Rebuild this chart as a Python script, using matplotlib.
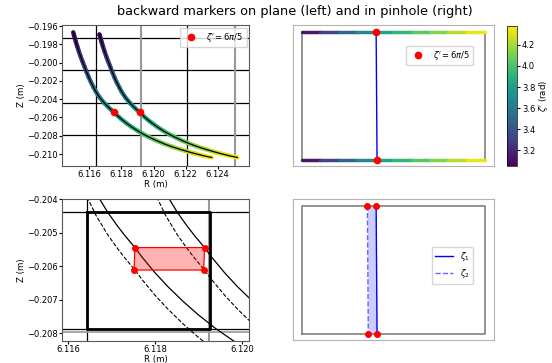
import numpy as np
import matplotlib
matplotlib.use('Agg')
import matplotlib.pyplot as plt
from matplotlib.collections import LineCollection
from matplotlib.colors import Normalize
from matplotlib.cm import ScalarMappable

## data
# marker traces on the plane (solid = zeta1)
rA = [6.11500, 6.11505, 6.11510, 6.11517, 6.11525, 6.11535, 6.11545, 6.11557, 6.11570,
      6.11583, 6.11596, 6.11611, 6.11627, 6.11640, 6.11664, 6.11691, 6.11714, 6.11732,
      6.11754, 6.11770, 6.11800, 6.11830, 6.11865, 6.11900, 6.11940, 6.11980, 6.12025,
      6.12070, 6.12120, 6.12170, 6.12220, 6.12265, 6.12315, 6.12363]
zA = [-0.19669, -0.19702, -0.19734, -0.19777, -0.19823, -0.19878, -0.19929, -0.19985, -0.20043,
      -0.20103, -0.20159, -0.20217, -0.20272, -0.20315, -0.20380, -0.20438, -0.20480, -0.20510,
      -0.20544, -0.20572, -0.20619, -0.20661, -0.20705, -0.20745, -0.20786, -0.20822, -0.20858,
      -0.20891, -0.20923, -0.20951, -0.20977, -0.20998, -0.21020, -0.21038]
rB = [6.11663, 6.11665, 6.11670, 6.11677, 6.11685, 6.11695, 6.11705, 6.11717, 6.11730,
      6.11743, 6.11756, 6.11771, 6.11787, 6.11800, 6.11824, 6.11851, 6.11874, 6.11892,
      6.11914, 6.11930, 6.11960, 6.11990, 6.12025, 6.12060, 6.12100, 6.12140, 6.12185,
      6.12230, 6.12280, 6.12330, 6.12380, 6.12425, 6.12475, 6.12523]
zB = [-0.19691, -0.19702, -0.19734, -0.19777, -0.19823, -0.19878, -0.19929, -0.19985, -0.20043,
      -0.20103, -0.20159, -0.20217, -0.20272, -0.20315, -0.20380, -0.20438, -0.20480, -0.20510,
      -0.20544, -0.20572, -0.20619, -0.20661, -0.20705, -0.20745, -0.20786, -0.20822, -0.20858,
      -0.20891, -0.20923, -0.20951, -0.20977, -0.20998, -0.21020, -0.21038]
zeta_tr = [3.050, 3.075, 3.098, 3.131, 3.166, 3.208, 3.246, 3.290, 3.335, 3.383, 3.428, 3.475,
           3.521, 3.558, 3.615, 3.667, 3.707, 3.735, 3.770, 3.790, 3.826, 3.860, 3.899, 3.937,
           3.978, 4.018, 4.063, 4.106, 4.154, 4.201, 4.248, 4.290, 4.336, 4.380]

# zeta2 traces (dashed), only the zoomed part
rA2 = [6.11570, 6.11583, 6.11596, 6.11611, 6.11627, 6.11640, 6.11664, 6.11691, 6.11714, 6.11732,
       6.11754, 6.11770, 6.11800, 6.11830, 6.11865, 6.11900, 6.11940, 6.11980, 6.12025, 6.12070]
zA2 = [-0.20110, -0.20170, -0.20226, -0.20284, -0.20339, -0.20382, -0.20447, -0.20505, -0.20547, -0.20577,
       -0.20611, -0.20639, -0.20686, -0.20728, -0.20772, -0.20812, -0.20853, -0.20889, -0.20925, -0.20958]
rB2 = [6.11730, 6.11743, 6.11756, 6.11771, 6.11787, 6.11800, 6.11824, 6.11851, 6.11874, 6.11892,
       6.11914, 6.11930, 6.11960, 6.11990, 6.12025, 6.12060, 6.12100, 6.12140, 6.12185, 6.12230]
zB2 = [-0.20110, -0.20170, -0.20226, -0.20284, -0.20339, -0.20382, -0.20447, -0.20505, -0.20547, -0.20577,
       -0.20611, -0.20639, -0.20686, -0.20728, -0.20772, -0.20812, -0.20853, -0.20889, -0.20925, -0.20958]

# markers at zeta' = 6pi/5
r_mark = [6.11754, 6.11914]
z_mark = [-0.20544, -0.20544]
# cell seen through pinhole (corners)
cell_r = [6.11754, 6.11914, 6.11912, 6.11752]
cell_z = [-0.20544, -0.20544, -0.20611, -0.20611]

# grid lines on plane
grid_z = [-0.19735, -0.20085, -0.20437, -0.20787]
grid_r_black = [6.11644, 6.12211]
grid_r_gray = [6.11925, 6.12506]
box_r = [6.11644, 6.11927]
box_z = [-0.20437, -0.20787]

# pinhole plane (normalised coords)
ph_x = [0.0, 0.1, 0.2, 0.3, 0.407, 0.5, 0.6, 0.7, 0.8, 0.9, 1.0]
ph_zeta = [3.05, 3.22, 3.40, 3.58, 3.77, 3.88, 3.98, 4.08, 4.18, 4.28, 4.38]
z1_x = [0.405, 0.41]   # top, bottom
z2_x = [0.357, 0.362]

zmin, zmax = 3.05, 4.38
norm = Normalize(zmin, zmax)
cmap = plt.get_cmap('viridis')

plt.rcParams['font.size'] = 6.2
plt.rcParams['xtick.labelsize'] = 6
plt.rcParams['ytick.labelsize'] = 6
plt.rcParams['xtick.major.size'] = 2
plt.rcParams['ytick.major.size'] = 2
plt.rcParams['xtick.major.pad'] = 1.2
plt.rcParams['ytick.major.pad'] = 1.2

fig = plt.figure(figsize=(5.52, 3.63), dpi=100)
ax1 = fig.add_axes([0.1129, 0.5427, 0.3388, 0.3884])
ax2 = fig.add_axes([0.5308, 0.5427, 0.3641, 0.3884])
ax3 = fig.add_axes([0.1129, 0.0614, 0.3388, 0.3895])
ax4 = fig.add_axes([0.5308, 0.0634, 0.3641, 0.3884])
cax = fig.add_axes([0.9185, 0.5427, 0.0181, 0.3857])


def colored_line(ax, x, y, c, lw):
    pts = np.column_stack([x, y]).reshape(-1, 1, 2)
    segs = np.concatenate([pts[:-1], pts[1:]], axis=1)
    cc = 0.5 * (np.array(c[:-1]) + np.array(c[1:]))
    lc = LineCollection(segs, cmap=cmap, norm=norm, linewidths=lw, capstyle='round')
    lc.set_array(cc)
    ax.add_collection(lc)


def plane_grid(ax):
    for z in grid_z:
        ax.axhline(z, color='k', lw=0.9)
    for r in grid_r_gray:
        ax.axvline(r, color='0.6', lw=1.5)
    for r in grid_r_black:
        ax.axvline(r, color='k', lw=0.9)


##top left: traces on the plane
plane_grid(ax1)
for r, z in [(rA, zA), (rB, zB)]:
    colored_line(ax1, r, z, zeta_tr, 3.2)
    ax1.plot(r, z, color='k', lw=0.9)
ax1.plot(r_mark, z_mark, 'o', color='red', ms=4.5, label=r"$\zeta' = 6\pi/5$", zorder=5)
ax1.set_xlim(6.11432, 6.12597)
ax1.set_ylim(-0.21131, -0.19589)
ax1.set_xticks([6.116, 6.118, 6.120, 6.122, 6.124])
ax1.set_yticks([-0.196, -0.198, -0.200, -0.202, -0.204, -0.206, -0.208, -0.210])
ax1.ticklabel_format(useOffset=False)
ax1.set_xlabel('R (m)', labelpad=0.5)
ax1.set_ylabel('Z (m)', labelpad=1)
ax1.legend(loc='upper right', fontsize=6, borderaxespad=0.3, handletextpad=0.8)

##top right: pinhole
ax2.plot([0, 1, 1, 0, 0], [0, 0, 1, 1, 0], color='0.5', lw=1.2)
colored_line(ax2, ph_x, [1] * len(ph_x), ph_zeta, 2.5)
colored_line(ax2, ph_x, [0] * len(ph_x), ph_zeta, 2.5)
ax2.plot(z1_x, [1, 0], color='blue', lw=1.0)
ax2.plot(z1_x, [1, 0], 'o', color='red', ms=4.5, label=r"$\zeta' = 6\pi/5$", zorder=5)
ax2.set_xlim(-0.05, 1.05)
ax2.set_ylim(-0.047, 1.057)
ax2.set_xticks([])
ax2.set_yticks([])
ax2.legend(loc='upper right', bbox_to_anchor=(0.896, 0.853), borderaxespad=0,
           fontsize=6, handletextpad=0.8)

sm = ScalarMappable(norm=norm, cmap=cmap)
cb = fig.colorbar(sm, cax=cax)
cb.set_ticks([3.2, 3.4, 3.6, 3.8, 4.0, 4.2])
cb.outline.set_linewidth(0.5)
cb.ax.tick_params(length=2, pad=1.5, labelsize=6)
cb.set_label(r"$\zeta'$ (rad)", fontsize=6.2, labelpad=1)

##bottom left: zoom on the cell
plane_grid(ax3)
ax3.axhline(-0.20795, color='0.6', lw=1.2)
ax3.plot([box_r[0], box_r[1], box_r[1], box_r[0], box_r[0]],
         [box_z[0], box_z[0], box_z[1], box_z[1], box_z[0]], color='k', lw=2.0)
ax3.plot(rA, zA, color='k', lw=0.9)
ax3.plot(rB, zB, color='k', lw=0.9)
ax3.plot(rA2, zA2, color='k', lw=0.8, ls='--')
ax3.plot(rB2, zB2, color='k', lw=0.8, ls='--')
ax3.fill(cell_r, cell_z, facecolor='red', alpha=0.3, zorder=4)
ax3.fill(cell_r, cell_z, facecolor='none', edgecolor='red', lw=0.9, zorder=4)
ax3.plot(cell_r, cell_z, 'o', color='red', ms=4, zorder=5)
ax3.set_xlim(6.11587, 6.12017)
ax3.set_ylim(-0.20822, -0.20400)
ax3.set_xticks([6.116, 6.118, 6.120])
ax3.set_yticks([-0.204, -0.205, -0.206, -0.207, -0.208])
ax3.ticklabel_format(useOffset=False)
ax3.set_xlabel('R (m)', labelpad=0.5)
ax3.set_ylabel('Z (m)', labelpad=1)

##bottom right: the cell in the pinhole
ax4.plot([0, 1, 1, 0, 0], [0, 0, 1, 1, 0], color='0.5', lw=1.2)
ax4.fill_betweenx([1, 0], z2_x, z1_x, color='blue', alpha=0.2, lw=0)
ax4.plot(z1_x, [1, 0], color='blue', lw=1.0, label=r'$\zeta_1$')
ax4.plot(z2_x, [1, 0], color='blue', lw=1.0, ls='--', alpha=0.6, label=r'$\zeta_2$')
ax4.plot(z1_x + z2_x, [1, 0, 1, 0], 'o', color='red', ms=4, zorder=5)
ax4.set_xlim(-0.05, 1.05)
ax4.set_ylim(-0.047, 1.052)
ax4.set_xticks([])
ax4.set_yticks([])
ax4.legend(loc='center right', bbox_to_anchor=(0.896, 0.53), borderaxespad=0,
           fontsize=6, handlelength=2.2)

for ax in [ax1, ax3]:
    for s in ax.spines.values():
        s.set_color('0.35')
for ax in [ax2, ax4]:
    for s in ax.spines.values():
        s.set_color('0.7')

fig.suptitle('backward markers on plane (left) and in pinhole (right)', x=0.535, y=0.985,
             fontsize=9.3)

plt.savefig('out.png', dpi=100)
